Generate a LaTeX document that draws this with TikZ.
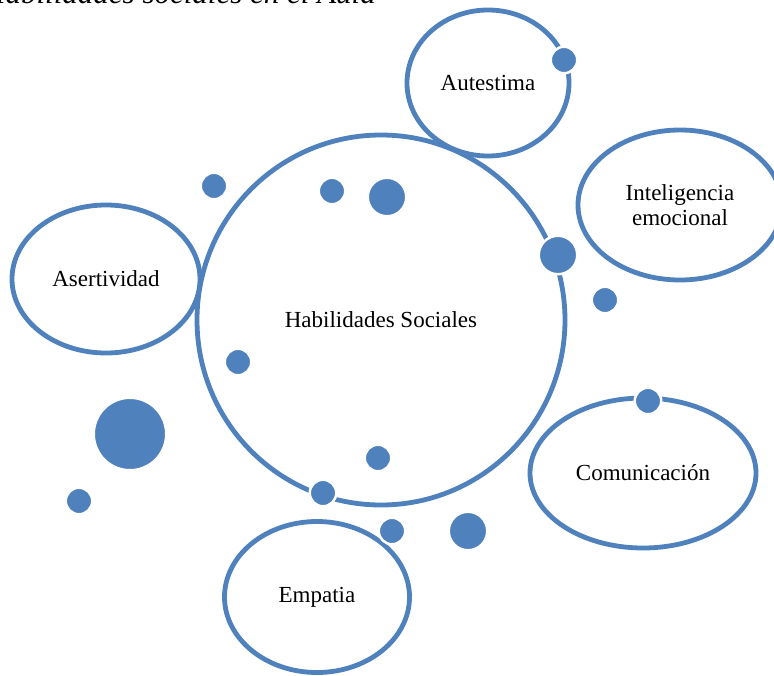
\documentclass[tikz,border=0pt]{standalone}
\usepackage{fontspec}
\setmainfont{Liberation Serif}
\usetikzlibrary{shapes.geometric}

\definecolor{bluebubble}{HTML}{4F81BD}

\tikzset{
  bubble/.style={ellipse, draw=bluebubble, line width=4.8pt, fill=white,
    inner sep=0pt, align=center, font=\fontsize{23}{25}\selectfont},
  dot/.style={circle, fill=bluebubble, draw=white, line width=2.5pt, inner sep=0pt}
}

\begin{document}
\begin{tikzpicture}[x=1pt,y=-1pt]
\useasboundingbox (0,0) rectangle (774,675);
\clip (0,0) rectangle (774,675);

% title line, mostly above the page edge
\node[anchor=base east, inner sep=0pt, font=\fontsize{31}{33}\selectfont\itshape]
  (title) at (376,3) {Habilidades sociales en el Aula};

% the centre circle and the bubbles round it
\node[bubble, minimum width=368, minimum height=370] (hab) at (381,320) {Habilidades Sociales};
\node[bubble, minimum width=162, minimum height=146] (aut) at (488,83) {Autestima};
\node[bubble, minimum width=204, minimum height=150] (intel) at (680,205) {Inteligencia\\emocional};
\node[bubble, minimum width=188, minimum height=148] (aser) at (106,279) {Asertividad};
\node[bubble, minimum width=226, minimum height=150] (comu) at (643,473) {Comunicación};
\node[bubble, minimum width=185, minimum height=151] (emp) at (317,597) {Empatia};

% small dots scattered about
\foreach \n/\x/\y/\r in {a/564/60/12, b/387/197/18, c/332/191/12, d/214/186/12,
  e/558/255/18, f/605/300/12, g/238/362/12, h/130/434/35, i/79/501/12,
  j/378/458/12, k/323/493/12, l/392/531/12, m/468/531/18, n/648/401/12}
  \node[dot, minimum size=2*\r+2.5] (dot-\n) at (\x,\y) {};

\end{tikzpicture}
\end{document}
